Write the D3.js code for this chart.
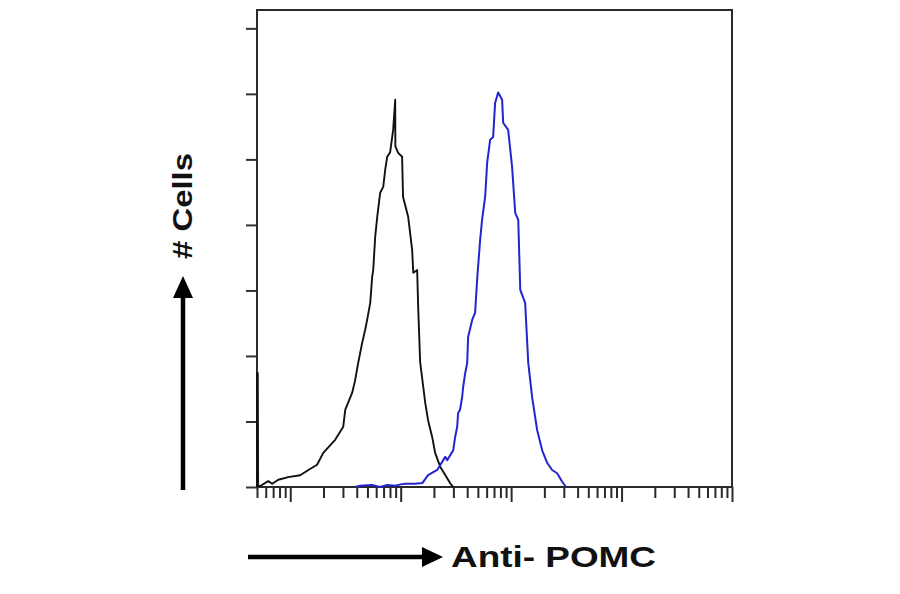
<!DOCTYPE html>
<html>
<head>
<meta charset="utf-8">
<script src="https://cdn.jsdelivr.net/npm/d3@7"></script>
<style>
  html, body { margin: 0; padding: 0; background: #ffffff; }
  svg { display: block; }
</style>
</head>
<body>
<svg id="chart" width="900" height="594"></svg>
<script>
// ---- data (fluorescence value, cell count) ----
const controlSeries = [
  [0.5, 0], [0.5, 174], [0.508, 174], [0.512, 1.5], [0.535, 1.5], [0.632, 9], [0.687, 5], [0.779, 11], [0.959, 15],
  [1.23, 18], [1.46, 26], [1.75, 34], [1.99, 52], [2.55, 72], [3.02, 92], [3.15, 118],
  [3.64, 144], [3.87, 163], [4.12, 189], [4.48, 220], [4.77, 240], [4.97, 255],
  [5.30, 281], [5.52, 321], [5.64, 331], [5.88, 382], [6.13, 412], [6.52, 449],
  [6.95, 458], [7.24, 484], [7.55, 504], [8.03, 511], [8.55, 545], [8.92, 591],
  [8.95, 520], [9.49, 510], [10.3, 504], [10.5, 443], [11.7, 412], [12.7, 362],
  [13.0, 327], [14.1, 331], [14.4, 275], [15.0, 191], [16.0, 153], [16.7, 128],
  [17.7, 102], [19.3, 76], [20.5, 52], [22.8, 31], [28.0, 6], [29.9, 0]
];
const pomcSeries = [
  [3.87, 0], [4.3, 2], [5.5, 3], [6.5, 0], [7.55, 3], [9.0, 2], [10.0, 4], [11.0, 5],
  [13.5, 5], [15.7, 6], [17.7, 18], [21.4, 26], [25.3, 46], [26.4, 41], [29.9, 56],
  [31.1, 76], [32.5, 92], [33.1, 113], [34.5, 118], [36.0, 137], [36.8, 153],
  [38.4, 174], [40.0, 189], [40.8, 229], [44.4, 255], [47.2, 266], [49.2, 316],
  [52.4, 377], [54.6, 408], [58.2, 443], [60.7, 495], [64.6, 530], [68.7, 534],
  [71.6, 586], [76.3, 602], [82.9, 591], [84.7, 556], [94.0, 545], [102, 489],
  [109, 418], [116, 408], [121, 301], [134, 281], [143, 189], [155, 137], [172, 87],
  [191, 56], [212, 37], [235, 26], [261, 21], [290, 8], [315, 0]
];
const yTickValues = [0, 100, 200, 300, 400, 500, 600, 700];
const xMajorTicks = [1, 10, 100, 1000, 10000];
const xMinorTicks = [];
[0.1, 1, 10, 100, 1000].forEach(d => { for (let k = 2; k <= 9; k++) { const v = d * k; if (v >= 0.5 && v < 10000) xMinorTicks.push(v); } });
const yLabel = "# Cells";
const xLabel = "Anti- POMC";

// ---- layout ----
const svg = d3.select("#chart");
const plotLeft = 257, plotRight = 732, plotTop = 10, plotBottom = 487;

const x = d3.scaleLog().domain([0.5, 10000]).range([plotLeft, plotRight]);
const y = d3.scaleLinear().domain([0, 728]).range([plotBottom, plotTop]);

// y axis ticks
const yAxis = d3.axisLeft(y).tickValues(yTickValues).tickSize(11).tickFormat("");
const gy = svg.append("g").attr("transform", `translate(${plotLeft},0)`).call(yAxis);
gy.select(".domain").remove();
gy.selectAll("line").attr("stroke", "#333").attr("stroke-width", 2);

// x axis ticks
const gxMinor = svg.append("g").attr("transform", `translate(0,${plotBottom})`)
  .call(d3.axisBottom(x).tickValues(xMinorTicks).tickSize(11).tickFormat(""));
gxMinor.select(".domain").remove();
gxMinor.selectAll("line").attr("stroke", "#2a2a2a").attr("stroke-width", 2);
const gxMajor = svg.append("g").attr("transform", `translate(0,${plotBottom})`)
  .call(d3.axisBottom(x).tickValues(xMajorTicks).tickSize(15).tickFormat(""));
gxMajor.select(".domain").remove();
gxMajor.selectAll("line").attr("stroke", "#2a2a2a").attr("stroke-width", 2);

// frame
svg.append("rect")
  .attr("x", plotLeft).attr("y", plotTop)
  .attr("width", plotRight - plotLeft).attr("height", plotBottom - plotTop)
  .attr("fill", "none").attr("stroke", "#2a2a2a").attr("stroke-width", 2);

// histograms
const line = d3.line().x(d => x(d[0])).y(d => y(d[1]));
svg.append("path").datum(controlSeries)
  .attr("d", line).attr("fill", "none")
  .attr("stroke", "#111").attr("stroke-width", 1.9).attr("stroke-linejoin", "round");
svg.append("path").datum(pomcSeries)
  .attr("d", line).attr("fill", "none")
  .attr("stroke", "#2424d0").attr("stroke-width", 2).attr("stroke-linejoin", "round");

// arrows and labels
svg.append("line").attr("x1", 183).attr("y1", 490).attr("x2", 183).attr("y2", 296)
  .attr("stroke", "#000").attr("stroke-width", 4.5);
svg.append("path").attr("d", "M173,298 L183,276 L193,298 Z").attr("fill", "#000");
svg.append("text")
  .attr("transform", "translate(192,206) rotate(-90)")
  .attr("text-anchor", "middle")
  .attr("font-family", "Liberation Sans, Arial, sans-serif")
  .attr("font-weight", "bold").attr("font-size", 27)
  .attr("textLength", 106).attr("lengthAdjust", "spacingAndGlyphs")
  .attr("fill", "#111").text(yLabel);

svg.append("line").attr("x1", 248).attr("y1", 557).attr("x2", 424).attr("y2", 557)
  .attr("stroke", "#000").attr("stroke-width", 4.5);
svg.append("path").attr("d", "M422,547 L443,557 L422,567 Z").attr("fill", "#000");
svg.append("text")
  .attr("x", 451).attr("y", 567)
  .attr("font-family", "Liberation Sans, Arial, sans-serif")
  .attr("font-weight", "bold").attr("font-size", 30)
  .attr("textLength", 205).attr("lengthAdjust", "spacingAndGlyphs")
  .attr("fill", "#111").text(xLabel);
</script>
</body>
</html>
